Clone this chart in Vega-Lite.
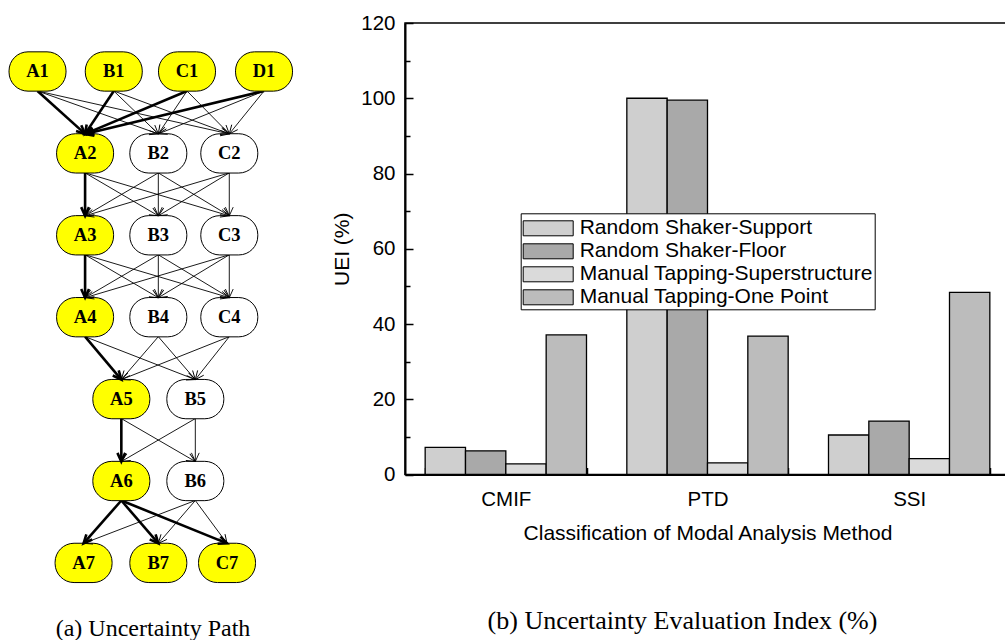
{
  "$schema": "https://vega.github.io/schema/vega-lite/v6.json",
  "padding": {"left": 0, "top": 12, "right": 0, "bottom": 0},
  "background": "white",
  "bounds": "flush",
  "spacing": 103,
  "config": {
    "font": "Liberation Sans",
    "view": {"stroke": "black", "strokeWidth": 1.5},
    "axis": {"labelColor": "black", "titleColor": "black", "domainColor": "black", "tickColor": "black", "titleFontWeight": "normal", "labelFont": "Liberation Sans", "titleFont": "Liberation Sans", "grid": false}
  },
  "resolve": {"scale": {"fill": "independent", "color": "independent", "x": "independent", "y": "independent", "strokeWidth": "independent"}, "legend": {"fill": "independent", "color": "independent"}},
  "datasets": {
    "nodes": [
      {"id": "A1", "col": 0, "level": 1, "onPath": "yes"},
      {"id": "B1", "col": 1.01, "level": 1, "onPath": "yes"},
      {"id": "C1", "col": 1.98, "level": 1, "onPath": "yes"},
      {"id": "D1", "col": 3.0, "level": 1, "onPath": "yes"},
      {"id": "A2", "col": 0.63, "level": 2, "onPath": "yes"},
      {"id": "B2", "col": 1.6, "level": 2, "onPath": "no"},
      {"id": "C2", "col": 2.54, "level": 2, "onPath": "no"},
      {"id": "A3", "col": 0.63, "level": 3, "onPath": "yes"},
      {"id": "B3", "col": 1.6, "level": 3, "onPath": "no"},
      {"id": "C3", "col": 2.54, "level": 3, "onPath": "no"},
      {"id": "A4", "col": 0.63, "level": 4, "onPath": "yes"},
      {"id": "B4", "col": 1.6, "level": 4, "onPath": "no"},
      {"id": "C4", "col": 2.54, "level": 4, "onPath": "no"},
      {"id": "A5", "col": 1.11, "level": 5, "onPath": "yes"},
      {"id": "B5", "col": 2.09, "level": 5, "onPath": "no"},
      {"id": "A6", "col": 1.11, "level": 6, "onPath": "yes"},
      {"id": "B6", "col": 2.09, "level": 6, "onPath": "no"},
      {"id": "A7", "col": 0.61, "level": 7, "onPath": "yes"},
      {"id": "B7", "col": 1.6, "level": 7, "onPath": "yes"},
      {"id": "C7", "col": 2.51, "level": 7, "onPath": "yes"}
    ],
    "edges": [
      {"s": "A1", "t": "B2", "bold": "no"}, {"s": "A1", "t": "C2", "bold": "no"},
      {"s": "B1", "t": "B2", "bold": "no"}, {"s": "B1", "t": "C2", "bold": "no"},
      {"s": "C1", "t": "B2", "bold": "no"}, {"s": "C1", "t": "C2", "bold": "no"},
      {"s": "D1", "t": "B2", "bold": "no"}, {"s": "D1", "t": "C2", "bold": "no"},
      {"s": "A1", "t": "A2", "bold": "yes"}, {"s": "B1", "t": "A2", "bold": "yes"},
      {"s": "C1", "t": "A2", "bold": "yes"}, {"s": "D1", "t": "A2", "bold": "yes"},
      {"s": "A2", "t": "B3", "bold": "no"}, {"s": "A2", "t": "C3", "bold": "no"},
      {"s": "B2", "t": "A3", "bold": "no"}, {"s": "B2", "t": "B3", "bold": "no"}, {"s": "B2", "t": "C3", "bold": "no"},
      {"s": "C2", "t": "A3", "bold": "no"}, {"s": "C2", "t": "B3", "bold": "no"}, {"s": "C2", "t": "C3", "bold": "no"},
      {"s": "A2", "t": "A3", "bold": "yes"},
      {"s": "A3", "t": "B4", "bold": "no"}, {"s": "A3", "t": "C4", "bold": "no"},
      {"s": "B3", "t": "A4", "bold": "no"}, {"s": "B3", "t": "B4", "bold": "no"}, {"s": "B3", "t": "C4", "bold": "no"},
      {"s": "C3", "t": "A4", "bold": "no"}, {"s": "C3", "t": "B4", "bold": "no"}, {"s": "C3", "t": "C4", "bold": "no"},
      {"s": "A3", "t": "A4", "bold": "yes"},
      {"s": "A4", "t": "B5", "bold": "no"},
      {"s": "B4", "t": "A5", "bold": "no"}, {"s": "B4", "t": "B5", "bold": "no"},
      {"s": "C4", "t": "A5", "bold": "no"}, {"s": "C4", "t": "B5", "bold": "no"},
      {"s": "A4", "t": "A5", "bold": "yes"},
      {"s": "A5", "t": "B6", "bold": "no"},
      {"s": "B5", "t": "A6", "bold": "no"}, {"s": "B5", "t": "B6", "bold": "no"},
      {"s": "A5", "t": "A6", "bold": "yes"},
      {"s": "B6", "t": "A7", "bold": "no"}, {"s": "B6", "t": "B7", "bold": "no"}, {"s": "B6", "t": "C7", "bold": "no"},
      {"s": "A6", "t": "A7", "bold": "yes"}, {"s": "A6", "t": "B7", "bold": "yes"}, {"s": "A6", "t": "C7", "bold": "yes"}
    ],
    "uei": [
      {"method": "CMIF", "series": "Random Shaker-Support", "value": 7.2},
      {"method": "CMIF", "series": "Random Shaker-Floor", "value": 6.3},
      {"method": "CMIF", "series": "Manual Tapping-Superstructure", "value": 2.8},
      {"method": "CMIF", "series": "Manual Tapping-One Point", "value": 37.1},
      {"method": "PTD", "series": "Random Shaker-Support", "value": 100.0},
      {"method": "PTD", "series": "Random Shaker-Floor", "value": 99.5},
      {"method": "PTD", "series": "Manual Tapping-Superstructure", "value": 3.1},
      {"method": "PTD", "series": "Manual Tapping-One Point", "value": 36.8},
      {"method": "SSI", "series": "Random Shaker-Support", "value": 10.5},
      {"method": "SSI", "series": "Random Shaker-Floor", "value": 14.2},
      {"method": "SSI", "series": "Manual Tapping-Superstructure", "value": 4.2},
      {"method": "SSI", "series": "Manual Tapping-One Point", "value": 48.4}
    ]
  },
  "hconcat": [
    {
      "width": 302,
      "height": 582,
      "view": {"stroke": null},
      "title": {"text": "(a) Uncertainty Path", "orient": "bottom", "offset": 12, "font": "Liberation Serif", "fontSize": 24, "fontWeight": "normal", "anchor": "middle", "frame": "group", "dx": 2, "color": "black"},
      "layer": [
        {
          "data": {"name": "edges"},
          "transform": [
            {"lookup": "s", "from": {"data": {"name": "nodes"}, "key": "id", "fields": ["col", "level"]}, "as": ["sx", "sl"]},
            {"lookup": "t", "from": {"data": {"name": "nodes"}, "key": "id", "fields": ["col", "level"]}, "as": ["tx", "tl"]},
            {"calculate": "datum.sl + 0.238", "as": "sy"},
            {"calculate": "datum.tl - 0.238", "as": "ty"}
          ],
          "mark": {"type": "rule", "color": "black"},
          "encoding": {
            "x": {"field": "sx", "type": "quantitative", "scale": {"domain": [-0.497, 3.503], "nice": false, "zero": false}, "axis": null},
            "y": {"field": "sy", "type": "quantitative", "scale": {"domain": [0.408, 7.514], "nice": false, "zero": false, "reverse": true}, "axis": null},
            "x2": {"field": "tx"},
            "y2": {"field": "ty"},
            "strokeWidth": {"field": "bold", "type": "nominal", "scale": {"domain": ["yes", "no"], "range": [2.6, 0.9]}, "legend": null}
          }
        },
        {
          "data": {"name": "nodes"},
          "transform": [
            {"calculate": "datum.col - 0.3775", "as": "x1"},
            {"calculate": "datum.col + 0.3775", "as": "x2"},
            {"calculate": "datum.level - 0.24", "as": "y1"},
            {"calculate": "datum.level + 0.24", "as": "y2"}
          ],
          "mark": {"type": "rect", "cornerRadius": 19, "stroke": "black", "strokeWidth": 1},
          "encoding": {
            "x": {"field": "x1", "type": "quantitative", "scale": {"domain": [-0.497, 3.503], "nice": false, "zero": false}, "axis": null},
            "x2": {"field": "x2"},
            "y": {"field": "y1", "type": "quantitative", "scale": {"domain": [0.408, 7.514], "nice": false, "zero": false, "reverse": true}, "axis": null},
            "y2": {"field": "y2"},
            "color": {"field": "onPath", "type": "nominal", "scale": {"domain": ["yes", "no"], "range": ["#ffff00", "#ffffff"]}, "legend": null}
          }
        },
        {
          "data": {"name": "edges"},
          "transform": [
            {"lookup": "s", "from": {"data": {"name": "nodes"}, "key": "id", "fields": ["col", "level"]}, "as": ["sx", "sl"]},
            {"lookup": "t", "from": {"data": {"name": "nodes"}, "key": "id", "fields": ["col", "level"]}, "as": ["tx", "tl"]},
            {"calculate": "datum.sl + 0.238", "as": "sy"},
            {"calculate": "datum.tl - 0.238", "as": "ty"},
            {"calculate": "atan2(-(datum.tx - datum.sx) * 75.5, (datum.ty - datum.sy) * 81.9) * 180 / PI", "as": "ang"}
          ],
          "mark": {"type": "point", "shape": "M-0.45,-1L0,0L0.45,-1", "filled": false, "size": 300, "color": "black", "opacity": 1},
          "encoding": {
            "x": {"field": "tx", "type": "quantitative", "scale": {"domain": [-0.497, 3.503], "nice": false, "zero": false}, "axis": null},
            "y": {"field": "ty", "type": "quantitative", "scale": {"domain": [0.408, 7.514], "nice": false, "zero": false, "reverse": true}, "axis": null},
            "angle": {"field": "ang", "type": "quantitative", "scale": null},
            "strokeWidth": {"field": "bold", "type": "nominal", "scale": {"domain": ["yes", "no"], "range": [2.6, 0.9]}, "legend": null}
          }
        },
        {
          "data": {"name": "nodes"},
          "mark": {"type": "text", "font": "Liberation Serif", "fontWeight": "bold", "fontSize": 18.5, "baseline": "middle", "align": "center", "color": "black"},
          "encoding": {
            "x": {"field": "col", "type": "quantitative", "scale": {"domain": [-0.497, 3.503], "nice": false, "zero": false}, "axis": null},
            "y": {"field": "level", "type": "quantitative", "scale": {"domain": [0.408, 7.514], "nice": false, "zero": false, "reverse": true}, "axis": null},
            "text": {"field": "id"}
          }
        }
      ]
    },
    {
      "width": 605,
      "height": 451.5,
      "data": {"name": "uei"},
      "title": {"text": "(b) Uncertainty Evaluation Index (%)", "orient": "bottom", "offset": 65, "font": "Liberation Serif", "fontSize": 26, "fontWeight": "normal", "anchor": "middle", "frame": "group", "dx": -25, "color": "black"},
      "resolve": {"axis": {"y": "independent"}},
      "layer": [
        {
          "mark": {"type": "bar", "stroke": "black", "strokeWidth": 1.3},
          "encoding": {
            "x": {
              "field": "method", "type": "nominal", "sort": ["CMIF", "PTD", "SSI"],
              "scale": {"paddingInner": 0.2, "paddingOuter": 0.1},
              "axis": {"title": "Classification of Modal Analysis Method", "labelAngle": 0, "labelFontSize": 20.5, "titleFontSize": 21, "tickBand": "extent", "tickSize": -7, "tickWidth": 1.5, "domainWidth": 2, "labelPadding": 22, "titlePadding": 12}
            },
            "xOffset": {"field": "series", "type": "nominal", "sort": ["Random Shaker-Support", "Random Shaker-Floor", "Manual Tapping-Superstructure", "Manual Tapping-One Point"], "scale": {"paddingInner": 0, "paddingOuter": 0}},
            "y": {
              "field": "value", "type": "quantitative",
              "scale": {"domain": [0, 120], "nice": false},
              "axis": {"title": "UEI (%)", "orient": "left", "values": [0, 20, 40, 60, 80, 100, 120], "labelFontSize": 20.5, "titleFontSize": 21, "tickSize": -8, "tickWidth": 1.5, "domainWidth": 2, "labelPadding": 18, "titlePadding": 8}
            },
            "fill": {
              "field": "series", "type": "nominal",
              "sort": ["Random Shaker-Support", "Random Shaker-Floor", "Manual Tapping-Superstructure", "Manual Tapping-One Point"],
              "scale": {"domain": ["Random Shaker-Support", "Random Shaker-Floor", "Manual Tapping-Superstructure", "Manual Tapping-One Point"], "range": ["#cfcfcf", "#a9a9a9", "#dadada", "#bcbcbc"]},
              "legend": {"title": null, "orient": "none", "legendX": 115.7, "legendY": 190.3, "direction": "vertical", "symbolType": "M-1,-0.6H3V0.6H-1Z", "symbolSize": 625, "symbolStrokeColor": "black", "symbolStrokeWidth": 1, "labelFontSize": 21, "labelFont": "Liberation Sans", "labelColor": "black", "labelOffset": 31, "labelLimit": 500, "padding": 2, "rowPadding": 0, "strokeColor": "black", "fillColor": "white"}
            }
          }
        },
        {
          "mark": {"type": "point", "opacity": 0},
          "encoding": {
            "y": {
              "field": "value", "type": "quantitative",
              "scale": {"domain": [0, 120], "nice": false},
              "axis": {"title": null, "orient": "left", "values": [10, 30, 50, 70, 90, 110], "labels": false, "domain": false, "tickSize": -5, "tickWidth": 1.5}
            }
          }
        }
      ]
    }
  ]
}
